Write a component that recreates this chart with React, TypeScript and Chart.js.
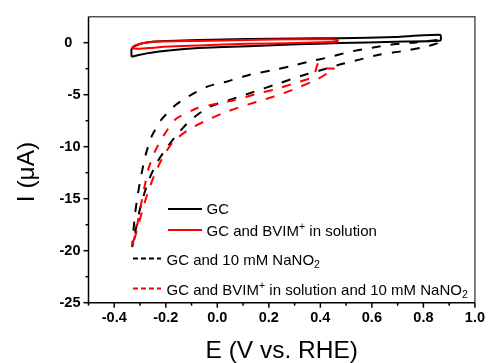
import React, { useEffect, useRef } from "react";
import { Chart, registerables } from "chart.js";

Chart.register(...registerables);

// ---- Data (E in V vs. RHE, I in µA) ----
// GC (black solid loop)
const gcX = [-0.333, -0.310, -0.264, -0.188, -0.073, 0.119, 0.310, 0.475, 0.693, 0.866, 0.866, 0.693, 0.475, 0.310, 0.119, -0.073, -0.245, -0.295, -0.318, -0.333, -0.333];
const gcY = [-1.36, -1.21, -0.98, -0.74, -0.52, -0.33, -0.16, -0.04, 0.10, 0.22, 0.75, 0.55, 0.43, 0.41, 0.36, 0.27, 0.12, -0.07, -0.31, -0.61, -1.36];

// GC and BVIM+ in solution (red solid loop)
const bvX = [-0.330, -0.303, -0.264, -0.207, -0.073, 0.119, 0.310, 0.467, 0.467, 0.444, 0.310, 0.119, -0.073, -0.226, -0.284, -0.314, -0.330, -0.330];
const bvY = [-0.55, -0.58, -0.52, -0.40, -0.26, -0.11, -0.02, 0.12, 0.24, 0.32, 0.32, 0.27, 0.17, 0.12, -0.02, -0.21, -0.45, -0.55];

// GC and 10 mM NaNO2 (black dashed loop)
const ntX = [0.854, 0.770, 0.693, 0.590, 0.510, 0.437, 0.360, 0.284, 0.207, 0.130, 0.042, -0.034, -0.097, -0.162, -0.218, -0.254, -0.277, -0.294, -0.308, -0.320, -0.330,
  -0.314, -0.299, -0.280, -0.257, -0.230, -0.199, -0.161, -0.119, -0.073, -0.023, 0.054, 0.130, 0.245, 0.322, 0.398, 0.475, 0.552, 0.628, 0.713, 0.797, 0.854, 0.854];
const ntY = [0.27, 0.03, -0.13, -0.52, -0.90, -1.38, -1.79, -2.27, -2.68, -3.06, -3.70, -4.18, -4.94, -5.99, -7.43, -8.96, -10.68, -12.59, -14.50, -16.61, -19.57,
  -17.66, -15.84, -14.22, -12.69, -11.35, -10.20, -8.96, -7.81, -6.85, -6.09, -5.45, -4.82, -3.86, -3.22, -2.68, -2.10, -1.63, -1.15, -0.83, -0.45, -0.04, 0.27];

// GC and BVIM+ in solution and 10 mM NaNO2 (red dashed loop)
const bnX = [0.456, 0.406, 0.391, 0.372, 0.299, 0.222, 0.149, 0.069, -0.008, -0.077, -0.161, -0.204, -0.241, -0.267, -0.284, -0.299, -0.312, -0.331,
  -0.310, -0.291, -0.268, -0.245, -0.215, -0.172, -0.107, -0.046, 0.023, 0.100, 0.176, 0.245, 0.318, 0.387, 0.456];
const bnY = [-2.50, -2.41, -1.98, -3.27, -3.89, -4.51, -4.94, -5.52, -5.90, -6.28, -7.33, -8.77, -10.39, -12.11, -14.02, -15.94, -17.66, -19.67,
  -17.85, -16.13, -14.27, -12.78, -11.16, -9.53, -8.29, -7.52, -6.76, -6.09, -5.52, -4.97, -4.27, -3.54, -2.50];

// Tick labels
const xTickLabels = ["-0.4", "-0.2", "0.0", "0.2", "0.4", "0.6", "0.8", "1.0"];
const yTickLabels = ["0", "-5", "-10", "-15", "-20", "-25"];

const xTitle = "E (V vs. RHE)";
const yTitle = "I (\u03bcA)";

const FONT = "'Liberation Sans', Arial, sans-serif";

const pts = (xs: number[], ys: number[]) => xs.map((x, i) => ({ x, y: ys[i] }));

type Seg = { t: string; mode?: "sup" | "sub" };
const legendItems: { segs: Seg[]; color: string; dashed: boolean; row: number }[] = [
  { segs: [{ t: "GC" }], color: "#000000", dashed: false, row: 0 },
  { segs: [{ t: "GC and BVIM" }, { t: "+", mode: "sup" }, { t: " in solution" }], color: "#ff0000", dashed: false, row: 1 },
  { segs: [{ t: "GC and 10 mM NaNO" }, { t: "2", mode: "sub" }], color: "#000000", dashed: true, row: 2 },
  { segs: [{ t: "GC and BVIM" }, { t: "+", mode: "sup" }, { t: " in solution and 10 mM NaNO" }, { t: "2", mode: "sub" }], color: "#ff0000", dashed: true, row: 3 },
];

const decorPlugin = {
  id: "decor",
  afterDraw(chart: any) {
    const ctx = chart.ctx as CanvasRenderingContext2D;
    const { left, right, top, bottom } = chart.chartArea;
    const xs = chart.scales.x;
    const ys = chart.scales.y;
    ctx.save();
    // tick marks
    ctx.strokeStyle = "#000";
    ctx.lineWidth = 1.5;
    ctx.setLineDash([]);
    xs.ticks.forEach((t: any) => {
      const px = xs.getPixelForValue(t.value);
      const major = t.label && String(t.label).trim() !== "";
      const len = major ? 5 : 3;
      ctx.beginPath();
      ctx.moveTo(px, bottom);
      ctx.lineTo(px, bottom + len);
      ctx.stroke();
    });
    ys.ticks.forEach((t: any) => {
      if (t.value > 0) return;
      const py = ys.getPixelForValue(t.value);
      const major = t.label && String(t.label).trim() !== "";
      const len = major ? 5 : 3;
      ctx.beginPath();
      ctx.moveTo(left, py);
      ctx.lineTo(left - len, py);
      ctx.stroke();
    });
    // frame
    ctx.lineWidth = 1.5;
    ctx.strokeStyle = "#555";
    ctx.beginPath();
    ctx.moveTo(left, top);
    ctx.lineTo(right, top);
    ctx.lineTo(right, bottom);
    ctx.stroke();
    ctx.strokeStyle = "#000";
    ctx.beginPath();
    ctx.moveTo(left, top);
    ctx.lineTo(left, bottom);
    ctx.lineTo(right, bottom);
    ctx.stroke();

    // axis titles
    ctx.fillStyle = "#000";
    ctx.font = `24.5px ${FONT}`;
    ctx.textAlign = "center";
    ctx.textBaseline = "alphabetic";
    ctx.fillText(xTitle, (left + right) / 2, 358);
    ctx.save();
    ctx.translate(34, 172);
    ctx.rotate(-Math.PI / 2);
    ctx.fillText(yTitle, 0, 0);
    ctx.restore();

    // legend
    ctx.textAlign = "left";
    const rowsY = [209, 230, 258.5, 288.5];
    const baseY = [214, 235.5, 264.5, 294.5];
    legendItems.forEach((it) => {
      const r = it.row;
      const x0 = r < 2 ? 168 : 133;
      const x1 = r < 2 ? 202 : 161;
      const tx = r < 2 ? 206.5 : 166.5;
      ctx.strokeStyle = it.color;
      ctx.lineWidth = 2;
      ctx.setLineDash(it.dashed ? [5, 3] : []);
      ctx.beginPath();
      ctx.moveTo(x0, rowsY[r]);
      ctx.lineTo(x1, rowsY[r]);
      ctx.stroke();
      ctx.setLineDash([]);
      let cx = tx;
      it.segs.forEach((s) => {
        let dy = 0;
        if (s.mode === "sup") {
          ctx.font = `10.5px ${FONT}`;
          dy = -5.5;
        } else if (s.mode === "sub") {
          ctx.font = `10.5px ${FONT}`;
          dy = 3.5;
        } else {
          ctx.font = `15px ${FONT}`;
        }
        ctx.fillStyle = "#000";
        ctx.fillText(s.t, cx, baseY[r] + dy);
        cx += ctx.measureText(s.t).width;
      });
    });
    ctx.restore();
  },
};

export default function App() {
  const ref = useRef<HTMLCanvasElement | null>(null);
  useEffect(() => {
    document.body.style.margin = "0";
    const canvas = ref.current;
    if (!canvas) return;
    const common = { showLine: true, pointRadius: 0, borderWidth: 2, tension: 0.2, borderJoinStyle: "round" as const, fill: false };
    const chart = new Chart(canvas, {
      type: "scatter",
      data: {
        datasets: [
          { ...common, label: "GC and BVIM+ in solution", data: pts(bvX, bvY), borderColor: "#ff0000", tension: 0.15 },
          { ...common, label: "GC and BVIM+ in solution and 10 mM NaNO2", data: pts(bnX, bnY), borderColor: "#ff0000", borderDash: [9, 10] },
          { ...common, label: "GC", data: pts(gcX, gcY), borderColor: "#000000", tension: 0.15 },
          { ...common, label: "GC and 10 mM NaNO2", data: pts(ntX, ntY), borderColor: "#000000", borderDash: [9, 10] },
        ],
      },
      options: {
        animation: false,
        responsive: false,
        maintainAspectRatio: false,
        events: [],
        layout: { padding: { top: 15, right: 12.3, bottom: 0, left: 0 } },
        plugins: { legend: { display: false }, tooltip: { enabled: false }, title: { display: false } },
        scales: {
          x: {
            type: "linear",
            min: -0.5,
            max: 1.0,
            grid: { display: false, drawTicks: false },
            border: { display: false },
            ticks: {
              stepSize: 0.1,
              autoSkip: false,
              minRotation: 0,
              maxRotation: 0,
              padding: 7,
              color: "#000",
              font: { family: FONT, size: 14.5, weight: "bold" },
              callback: (v: any) => {
                const n = Number(v);
                const r = Math.round(n * 10);
                if (Math.abs(n * 10 - r) > 1e-6 || r % 2 !== 0) return "";
                const s = (r / 10).toFixed(1);
                return xTickLabels.includes(s) ? s : "";
              },
            },
            afterFit: (s: any) => {
              s.height = 60.3;
            },
          },
          y: {
            type: "linear",
            min: -25,
            max: 2.5,
            grid: { display: false, drawTicks: false },
            border: { display: false },
            ticks: {
              stepSize: 2.5,
              autoSkip: false,
              padding: 8,
              color: "#000",
              font: { family: FONT, size: 14.5, weight: "bold" },
              callback: (v: any) => {
                const n = Number(v);
                const r2 = Math.round(n * 2);
                if (r2 % 10 !== 0) return "";
                const s = String(r2 / 2 === 0 ? 0 : r2 / 2);
                if (!yTickLabels.includes(s)) return "";
                return s === "0" ? "0\u2007" : s;
              },
            },
            afterFit: (s: any) => {
              s.width = 88.5;
            },
          },
        },
      },
      plugins: [decorPlugin],
    } as any);
    return () => chart.destroy();
  }, []);
  return (
    <div style={{ width: 492, height: 363 }}>
      <canvas ref={ref} width={492} height={363} style={{ display: "block" }} />
    </div>
  );
}
